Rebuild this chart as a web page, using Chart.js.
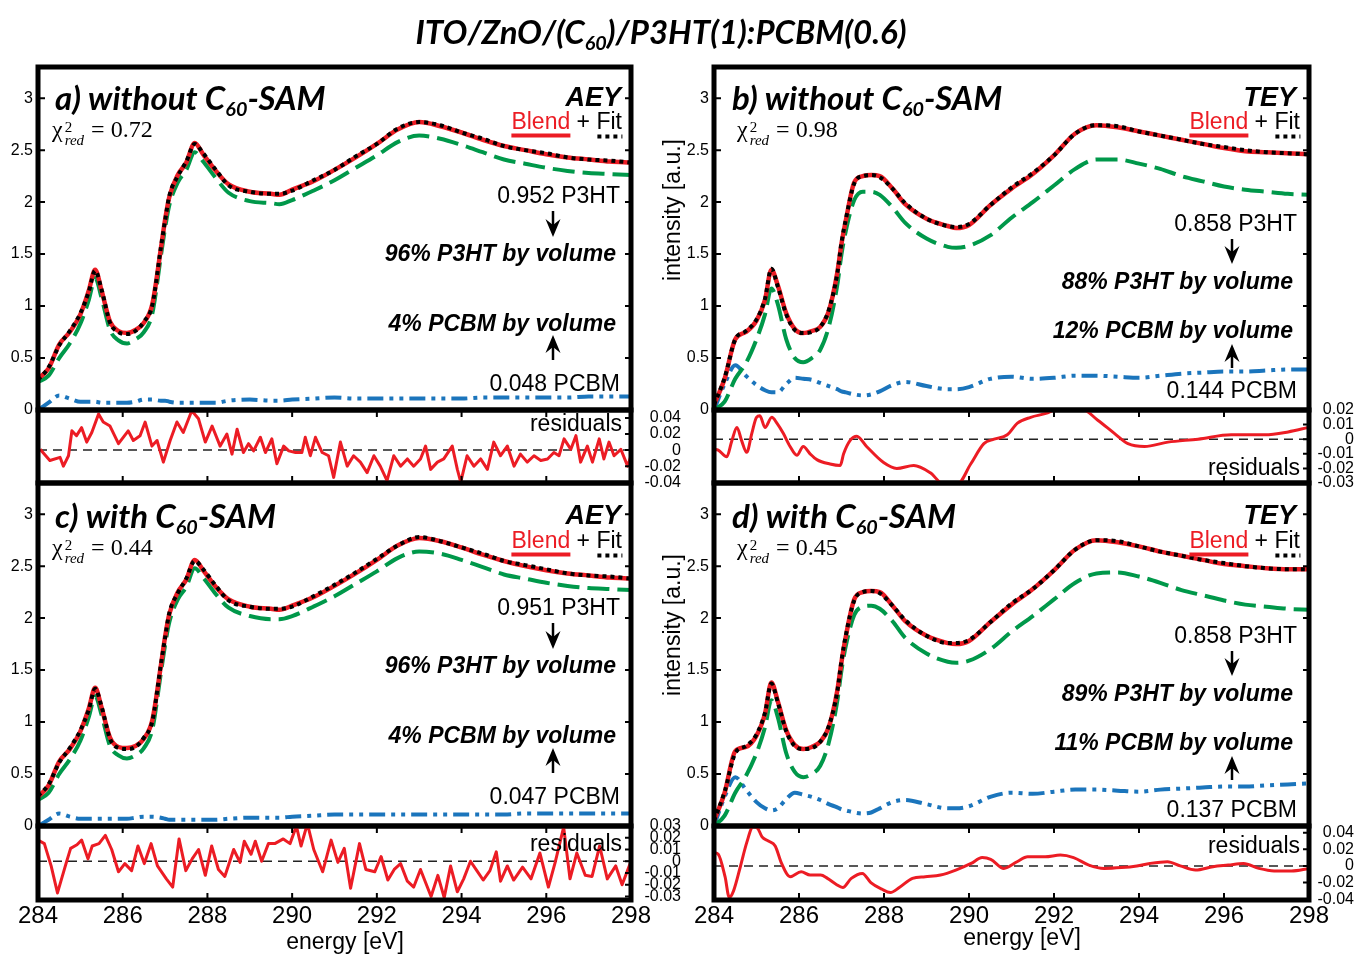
<!DOCTYPE html>
<html>
<head>
<meta charset="utf-8">
<title>ITO/ZnO/(C60)/P3HT(1):PCBM(0.6)</title>
<script src="https://cdn.jsdelivr.net/npm/chart.js@4.4.0/dist/chart.umd.min.js"></script>
<style>
  body { margin: 0; width: 1354px; height: 954px; position: relative; overflow: hidden; background: #fff; font-family: "Liberation Sans", Arial, sans-serif; color: #000; }
  canvas { position: absolute; }
  .t { position: absolute; white-space: nowrap; line-height: 1; }
  .ttl { font: italic bold 33px Lato, sans-serif; }
  .pl { font: italic bold 33px Lato, sans-serif; }
  .md { font: italic bold 27px "Liberation Sans", sans-serif; }
  .rg { font-size: 23px; }
  .bi { font: italic bold 23px "Liberation Sans", sans-serif; }
  .chi { font: 24px "Liberation Serif", serif; }
  .ss { display: inline-block; vertical-align: -8px; font-size: 15px; line-height: 13px; margin: 0 7px 0 2px; }
  .ss span { display: block; }
  sub { font-size: 0.6em; vertical-align: -0.3em; line-height: 0; }
  .bl { color: #ec1c24; border-bottom: 4px solid #ec1c24; }
  .ft { padding-bottom: 5px; background-image: linear-gradient(90deg, #000 50%, transparent 50%); background-size: 8px 4px; background-repeat: repeat-x; background-position: 1px 100%; }
  svg { position: absolute; left: 0; top: 0; }
</style>
</head>
<body>
<script>
// energy grid of the spectra (eV)
const energy = [284, 284.25, 284.5, 284.75, 285, 285.2, 285.35, 285.5, 285.7, 285.9, 286.1, 286.3, 286.5, 286.7, 286.9, 287.0, 287.1, 287.3, 287.5, 287.7, 287.9, 288.2, 288.5, 289, 289.5, 289.7, 290, 290.5, 291, 291.5, 292, 292.5, 293, 293.5, 294, 294.5, 295, 295.5, 296, 296.5, 297, 297.5, 298];
const xTicks = [284, 286, 288, 290, 292, 294, 296, 298];
const mainTicks = [0, 0.5, 1, 1.5, 2, 2.5, 3];

// a) without C60-SAM, AEY
const blendA = [0.30, 0.40, 0.63, 0.75, 0.92, 1.15, 1.35, 1.15, 0.85, 0.76, 0.74, 0.77, 0.84, 1.02, 1.55, 1.83, 2.05, 2.26, 2.38, 2.57, 2.46, 2.30, 2.17, 2.10, 2.08, 2.07, 2.12, 2.20, 2.31, 2.43, 2.56, 2.70, 2.77, 2.73, 2.67, 2.60, 2.54, 2.50, 2.46, 2.43, 2.41, 2.39, 2.38];
const fitA = [0.29, 0.41, 0.62, 0.76, 0.93, 1.14, 1.34, 1.16, 0.84, 0.75, 0.73, 0.76, 0.85, 1.01, 1.56, 1.82, 2.06, 2.25, 2.39, 2.56, 2.47, 2.31, 2.16, 2.10, 2.08, 2.08, 2.11, 2.21, 2.31, 2.44, 2.56, 2.71, 2.77, 2.74, 2.67, 2.61, 2.54, 2.50, 2.47, 2.43, 2.41, 2.40, 2.38];
const p3htA = [0.27, 0.33, 0.50, 0.64, 0.83, 1.06, 1.27, 1.08, 0.77, 0.67, 0.64, 0.68, 0.75, 0.93, 1.48, 1.75, 1.97, 2.19, 2.31, 2.48, 2.39, 2.23, 2.09, 2.01, 1.99, 1.98, 2.02, 2.11, 2.21, 2.33, 2.45, 2.58, 2.64, 2.61, 2.55, 2.48, 2.41, 2.37, 2.33, 2.30, 2.28, 2.27, 2.26];
const pcbmA = [0.00, 0.07, 0.14, 0.11, 0.08, 0.08, 0.08, 0.07, 0.07, 0.07, 0.07, 0.08, 0.10, 0.10, 0.09, 0.09, 0.08, 0.07, 0.07, 0.07, 0.07, 0.07, 0.09, 0.10, 0.09, 0.09, 0.10, 0.11, 0.12, 0.11, 0.11, 0.11, 0.11, 0.11, 0.11, 0.12, 0.12, 0.12, 0.12, 0.12, 0.13, 0.13, 0.13];

// b) without C60-SAM, TEY
const blendB = [0.05, 0.30, 0.68, 0.75, 0.86, 1.06, 1.35, 1.20, 0.93, 0.78, 0.74, 0.76, 0.80, 0.95, 1.32, 1.60, 1.82, 2.19, 2.25, 2.26, 2.25, 2.13, 1.98, 1.84, 1.77, 1.75, 1.78, 1.97, 2.13, 2.27, 2.45, 2.66, 2.74, 2.72, 2.68, 2.64, 2.60, 2.56, 2.52, 2.49, 2.48, 2.47, 2.46];
const fitB = [0.05, 0.31, 0.68, 0.76, 0.87, 1.07, 1.36, 1.19, 0.92, 0.77, 0.74, 0.75, 0.80, 0.96, 1.31, 1.61, 1.83, 2.18, 2.25, 2.26, 2.24, 2.13, 1.99, 1.84, 1.77, 1.76, 1.79, 1.97, 2.14, 2.28, 2.45, 2.66, 2.74, 2.73, 2.68, 2.64, 2.60, 2.56, 2.53, 2.50, 2.48, 2.47, 2.46];
const p3htB = [0.00, 0.08, 0.30, 0.45, 0.68, 0.92, 1.17, 1.02, 0.68, 0.50, 0.46, 0.50, 0.58, 0.80, 1.20, 1.50, 1.72, 2.02, 2.10, 2.10, 2.07, 1.95, 1.80, 1.65, 1.57, 1.56, 1.58, 1.68, 1.85, 2.00, 2.16, 2.32, 2.41, 2.41, 2.37, 2.32, 2.25, 2.20, 2.15, 2.12, 2.10, 2.08, 2.07];
const pcbmB = [0.00, 0.25, 0.43, 0.33, 0.24, 0.19, 0.17, 0.17, 0.25, 0.31, 0.30, 0.29, 0.26, 0.23, 0.20, 0.18, 0.17, 0.15, 0.14, 0.15, 0.18, 0.24, 0.27, 0.23, 0.20, 0.20, 0.22, 0.30, 0.32, 0.30, 0.31, 0.33, 0.33, 0.32, 0.31, 0.33, 0.35, 0.36, 0.37, 0.37, 0.38, 0.39, 0.39];

// c) with C60-SAM, AEY
const blendC = [0.28, 0.39, 0.62, 0.74, 0.91, 1.13, 1.33, 1.14, 0.85, 0.76, 0.75, 0.77, 0.84, 1.02, 1.54, 1.82, 2.04, 2.25, 2.37, 2.56, 2.46, 2.30, 2.18, 2.11, 2.09, 2.08, 2.12, 2.20, 2.31, 2.43, 2.56, 2.70, 2.77, 2.74, 2.68, 2.61, 2.55, 2.50, 2.46, 2.43, 2.41, 2.39, 2.38];
const fitC = [0.29, 0.40, 0.61, 0.75, 0.92, 1.12, 1.32, 1.15, 0.84, 0.75, 0.74, 0.76, 0.85, 1.01, 1.55, 1.81, 2.05, 2.24, 2.38, 2.55, 2.47, 2.31, 2.17, 2.11, 2.09, 2.09, 2.11, 2.21, 2.32, 2.44, 2.57, 2.70, 2.78, 2.74, 2.68, 2.62, 2.55, 2.51, 2.47, 2.43, 2.41, 2.40, 2.38];
const p3htC = [0.25, 0.32, 0.50, 0.64, 0.82, 1.05, 1.25, 1.07, 0.77, 0.68, 0.65, 0.68, 0.75, 0.93, 1.47, 1.74, 1.96, 2.18, 2.30, 2.48, 2.39, 2.23, 2.10, 2.02, 1.99, 1.99, 2.02, 2.11, 2.21, 2.33, 2.45, 2.58, 2.64, 2.62, 2.56, 2.49, 2.42, 2.38, 2.34, 2.31, 2.29, 2.28, 2.27];
const pcbmC = [0.00, 0.06, 0.12, 0.09, 0.07, 0.07, 0.07, 0.07, 0.07, 0.07, 0.07, 0.08, 0.09, 0.09, 0.08, 0.07, 0.06, 0.06, 0.06, 0.06, 0.06, 0.06, 0.07, 0.08, 0.08, 0.08, 0.09, 0.10, 0.11, 0.11, 0.11, 0.11, 0.11, 0.11, 0.11, 0.11, 0.11, 0.12, 0.12, 0.12, 0.12, 0.12, 0.12];

// d) with C60-SAM, TEY
const blendD = [0.05, 0.32, 0.72, 0.76, 0.87, 1.08, 1.38, 1.20, 0.92, 0.78, 0.74, 0.76, 0.81, 0.95, 1.30, 1.58, 1.82, 2.18, 2.25, 2.26, 2.25, 2.12, 1.97, 1.83, 1.76, 1.75, 1.78, 1.96, 2.13, 2.28, 2.46, 2.66, 2.75, 2.73, 2.69, 2.64, 2.60, 2.56, 2.52, 2.50, 2.48, 2.47, 2.47];
const fitD = [0.05, 0.33, 0.70, 0.77, 0.88, 1.09, 1.37, 1.19, 0.91, 0.77, 0.74, 0.75, 0.81, 0.96, 1.29, 1.59, 1.83, 2.17, 2.25, 2.26, 2.24, 2.12, 1.98, 1.83, 1.76, 1.76, 1.79, 1.96, 2.14, 2.28, 2.46, 2.66, 2.75, 2.74, 2.69, 2.64, 2.60, 2.56, 2.53, 2.50, 2.48, 2.47, 2.47];
const p3htD = [0.00, 0.10, 0.32, 0.48, 0.70, 0.95, 1.21, 1.05, 0.70, 0.52, 0.47, 0.50, 0.58, 0.80, 1.20, 1.50, 1.73, 2.03, 2.11, 2.12, 2.09, 1.97, 1.81, 1.66, 1.58, 1.57, 1.59, 1.70, 1.87, 2.02, 2.18, 2.34, 2.43, 2.44, 2.40, 2.34, 2.27, 2.22, 2.17, 2.13, 2.11, 2.09, 2.08];
const pcbmD = [0.00, 0.28, 0.47, 0.35, 0.23, 0.17, 0.15, 0.17, 0.26, 0.32, 0.30, 0.28, 0.25, 0.21, 0.18, 0.16, 0.15, 0.13, 0.12, 0.13, 0.17, 0.23, 0.25, 0.21, 0.17, 0.17, 0.19, 0.28, 0.32, 0.31, 0.33, 0.35, 0.35, 0.34, 0.33, 0.35, 0.36, 0.37, 0.38, 0.38, 0.39, 0.40, 0.41];

// residuals
const resEnergyA = [284.05, 284.28, 284.52, 284.6, 284.72, 284.8, 284.91, 285.03, 285.15, 285.27, 285.43, 285.54, 285.7, 285.9, 286.13, 286.25, 286.41, 286.53, 286.69, 286.81, 286.96, 287.12, 287.28, 287.43, 287.63, 287.79, 287.95, 288.11, 288.3, 288.46, 288.58, 288.7, 288.85, 288.97, 289.09, 289.25, 289.37, 289.52, 289.64, 289.8, 289.92, 290.08, 290.23, 290.31, 290.43, 290.55, 290.71, 290.86, 290.98, 291.14, 291.3, 291.45, 291.61, 291.77, 291.93, 292.08, 292.24, 292.4, 292.56, 292.72, 292.87, 293.03, 293.15, 293.27, 293.43, 293.58, 293.78, 293.9, 293.98, 294.13, 294.29, 294.45, 294.61, 294.76, 294.92, 295.08, 295.24, 295.39, 295.55, 295.71, 295.87, 296.03, 296.18, 296.3, 296.42, 296.58, 296.7, 296.81, 296.97, 297.09, 297.25, 297.36, 297.48, 297.6, 297.76, 297.92, 298.0];
const resA = [0.001, -0.013, -0.009, -0.02, -0.007, 0.024, 0.018, 0.028, 0.010, 0.022, 0.045, 0.035, 0.030, 0.008, 0.024, 0.012, 0.018, 0.035, 0.005, 0.012, -0.015, 0.012, 0.035, 0.022, 0.049, 0.039, 0.010, 0.030, 0.005, 0.020, -0.005, 0.026, -0.003, 0.008, -0.001, 0.016, -0.003, 0.014, -0.017, 0.005, -0.001, -0.003, -0.003, 0.016, -0.007, 0.016, -0.003, -0.007, -0.034, 0.010, -0.020, -0.007, -0.015, -0.028, -0.007, -0.020, -0.038, -0.007, -0.020, -0.011, -0.020, -0.011, 0.005, -0.024, -0.015, -0.011, 0.005, -0.024, -0.040, -0.007, -0.020, -0.011, -0.024, 0.010, -0.007, 0.005, -0.020, -0.005, -0.015, -0.007, -0.013, -0.011, -0.003, -0.007, 0.014, 0.001, 0.018, -0.015, 0.005, -0.015, 0.014, -0.011, 0.010, -0.007, 0.001, -0.020, -0.007];
const resTicksA = [-0.04, -0.02, 0, 0.02, 0.04];

const resEnergyB = [284.0, 284.1, 284.3, 284.42, 284.54, 284.65, 284.77, 284.89, 285.0, 285.08, 285.2, 285.36, 285.48, 285.63, 285.79, 285.95, 286.1, 286.26, 286.42, 286.73, 286.97, 287.05, 287.2, 287.36, 287.59, 287.99, 288.3, 288.7, 289.09, 289.41, 289.72, 290.04, 290.35, 290.59, 290.9, 291.14, 291.45, 291.85, 292.08, 292.63, 293.03, 293.42, 293.74, 294.13, 294.68, 295.39, 296.17, 296.96, 297.51, 297.98];
const resB = [-0.007, -0.0075, -0.012, -0.001, 0.008, -0.001, -0.009, 0.004, 0.015, 0.016, 0.008, 0.015, 0.011, 0.004, -0.005, -0.011, -0.005, -0.010, -0.014, -0.017, -0.018, -0.010, -0.001, 0.002, -0.005, -0.016, -0.020, -0.018, -0.023, -0.031, -0.031, -0.017, -0.003, 0.000, 0.003, 0.011, 0.015, 0.018, 0.021, 0.021, 0.013, 0.004, -0.003, -0.005, -0.002, 0.000, 0.003, 0.003, 0.005, 0.008];
const resTicksB = [-0.03, -0.02, -0.01, 0, 0.01, 0.02];

const resEnergyC = [284.0, 284.15, 284.31, 284.46, 284.67, 284.77, 284.92, 285.03, 285.18, 285.28, 285.44, 285.59, 285.74, 285.9, 286.05, 286.21, 286.36, 286.51, 286.67, 286.82, 287.03, 287.18, 287.33, 287.49, 287.64, 287.79, 287.95, 288.1, 288.26, 288.41, 288.62, 288.77, 288.87, 289.03, 289.13, 289.28, 289.44, 289.59, 289.79, 289.95, 290.1, 290.21, 290.36, 290.51, 290.72, 290.92, 291.08, 291.23, 291.38, 291.59, 291.74, 291.95, 292.1, 292.26, 292.41, 292.56, 292.72, 292.87, 293.03, 293.28, 293.44, 293.59, 293.74, 293.9, 294.05, 294.21, 294.36, 294.51, 294.67, 294.82, 294.92, 295.08, 295.23, 295.44, 295.64, 295.85, 296.05, 296.21, 296.41, 296.56, 296.72, 296.92, 297.08, 297.26, 297.44, 297.64, 297.79, 298.0];
const resC = [0.018, 0.015, -0.004, -0.027, -0.001, 0.011, 0.014, 0.018, 0.002, 0.013, 0.015, 0.022, 0.010, -0.009, -0.002, -0.008, 0.013, -0.002, 0.015, -0.004, -0.015, -0.022, 0.019, -0.008, 0.002, 0.010, -0.012, 0.013, -0.007, -0.013, 0.010, -0.001, 0.017, 0.006, 0.017, 0.000, 0.015, 0.015, 0.019, 0.015, 0.030, 0.013, 0.032, 0.010, -0.009, 0.018, -0.001, 0.011, -0.023, 0.015, -0.007, -0.009, 0.004, -0.016, -0.007, -0.002, -0.017, -0.022, -0.007, -0.030, -0.012, -0.031, -0.004, -0.026, -0.015, 0.000, -0.008, -0.016, -0.008, 0.008, -0.017, -0.004, -0.016, -0.005, -0.015, 0.007, -0.022, -0.001, 0.029, -0.015, 0.007, -0.012, -0.013, 0.013, -0.015, -0.004, -0.020, 0.000];
const resTicksC = [-0.03, -0.02, -0.01, 0, 0.01, 0.02, 0.03];

const resEnergyD = [284.0, 284.1, 284.26, 284.36, 284.46, 284.62, 284.77, 284.92, 285.03, 285.13, 285.28, 285.44, 285.59, 285.79, 286.05, 286.26, 286.51, 286.67, 286.87, 287.03, 287.23, 287.49, 287.69, 287.95, 288.15, 288.36, 288.67, 288.97, 289.33, 289.69, 290.05, 290.31, 290.51, 290.82, 291.13, 291.38, 291.79, 292.15, 292.46, 292.82, 293.18, 293.59, 293.95, 294.26, 294.67, 294.97, 295.33, 295.74, 296.1, 296.46, 296.82, 297.18, 297.59, 298.0];
const resD = [0.016, 0.014, -0.013, -0.038, -0.030, -0.001, 0.028, 0.047, 0.045, 0.035, 0.030, 0.024, 0.003, -0.013, -0.007, -0.011, -0.011, -0.015, -0.022, -0.026, -0.015, -0.009, -0.020, -0.028, -0.032, -0.026, -0.015, -0.013, -0.011, -0.005, 0.003, 0.010, 0.008, -0.003, 0.005, 0.011, 0.011, 0.013, 0.010, 0.001, -0.003, -0.002, 0.000, 0.003, 0.005, 0.000, -0.005, -0.001, 0.001, 0.003, -0.003, -0.006, -0.006, -0.003];
const resTicksD = [-0.04, -0.02, 0, 0.02, 0.04];

const RED = '#ec1c24', GREEN = '#00984a', BLUE = '#1b75bc';

Chart.defaults.font.family = '"Liberation Sans", Arial, sans-serif';
Chart.defaults.color = '#000';

// thick frame, inward ticks and the dashed zero line of the residuals
Chart.register({
  id: 'frame',
  beforeDatasetsDraw(chart, args, o) {
    if (!o.zero) return;
    const a = chart.chartArea, ctx = chart.ctx;
    const y = chart.scales.y.getPixelForValue(0);
    ctx.save();
    ctx.strokeStyle = '#222'; ctx.lineWidth = 1.5; ctx.setLineDash([9, 6]);
    ctx.beginPath(); ctx.moveTo(a.left, y); ctx.lineTo(a.right, y); ctx.stroke();
    ctx.restore();
  },
  afterDatasetsDraw(chart, args, o) {
    const a = chart.chartArea, ctx = chart.ctx, sx = chart.scales.x, sy = chart.scales.y;
    ctx.save();
    ctx.strokeStyle = '#000'; ctx.lineWidth = 2;
    ctx.beginPath();
    if (o.xTicks) xTicks.forEach(v => {
      const px = sx.getPixelForValue(v);
      ctx.moveTo(px, a.top); ctx.lineTo(px, a.top + 7);
      ctx.moveTo(px, a.bottom); ctx.lineTo(px, a.bottom - 7);
    });
    (o.yTicks || []).forEach(v => {
      const py = sy.getPixelForValue(v);
      if (o.left) { ctx.moveTo(a.left, py); ctx.lineTo(a.left + 7, py); }
      if (o.right) { ctx.moveTo(a.right, py); ctx.lineTo(a.right - 6, py); }
    });
    ctx.stroke();
    ctx.lineWidth = 5;
    ctx.strokeRect(a.left, a.top, a.width, a.height);
    ctx.restore();
  }
});

function pts(xs, ys) {
  return xs.map((x, i) => ({x: x, y: ys[i]}));
}

function mainSets(blend, fit, p3ht, pcbm) {
  return [
    {data: pts(energy, fit), borderColor: '#000', borderWidth: 4, borderDash: [4, 4]},
    {data: pts(energy, blend), borderColor: RED, borderWidth: 4.5},
    {data: pts(energy, p3ht), borderColor: GREEN, borderWidth: 4, borderDash: [22, 8]},
    {data: pts(energy, pcbm), borderColor: BLUE, borderWidth: 4, borderDash: [16, 6, 4, 6, 4, 6]}
  ];
}

function resSets(xs, ys, smooth) {
  return [{data: pts(xs, ys), borderColor: RED, borderWidth: 3, tension: 0,
           cubicInterpolationMode: smooth ? 'monotone' : 'default'}];
}

// box = [left, top, right, bottom] of the plot frame, m = margins [l, t, r, b]
function makeChart(box, m, sets, yMin, yMax, yTicks, res, showX, labelPad) {
  const c = document.createElement('canvas');
  c.width = box[2] - box[0] + m[0] + m[2];
  c.height = box[3] - box[1] + m[1] + m[3];
  c.style.left = (box[0] - m[0]) + 'px';
  c.style.top = (box[1] - m[1]) + 'px';
  document.body.appendChild(c);
  const xOpts = {
    type: 'linear', min: 284, max: 298, display: showX,
    grid: {display: false, drawTicks: false}, border: {display: false},
    afterBuildTicks: s => { s.ticks = xTicks.map(v => ({value: v})); },
    ticks: {font: {size: 24}, padding: 2, maxRotation: 0, autoSkip: false}
  };
  if (showX) xOpts.afterFit = s => { s.height = m[3]; };
  new Chart(c, {
    type: 'line',
    data: {datasets: sets},
    options: {
      responsive: false, animation: false, events: [],
      layout: {padding: {left: res ? m[0] : 0, right: res ? 0 : m[2], top: m[1], bottom: showX ? 0 : m[3]}},
      elements: {point: {radius: 0}, line: {cubicInterpolationMode: 'monotone', borderJoinStyle: 'round'}},
      plugins: {
        legend: {display: false}, tooltip: {enabled: false},
        frame: {zero: res, xTicks: res, left: !res, right: true, yTicks: yTicks}
      },
      scales: {
        x: xOpts,
        y: {
          position: res ? 'right' : 'left', min: yMin, max: yMax,
          grid: {display: false, drawTicks: false}, border: {display: false},
          afterBuildTicks: s => { s.ticks = yTicks.map(v => ({value: v})); },
          afterFit: s => { s.width = res ? m[2] : m[0]; },
          ticks: {font: {size: 16}, padding: labelPad, autoSkip: false,
                  crossAlign: res ? 'far' : 'near', callback: v => String(v)}
        }
      }
    }
  });
}

makeChart([38, 67, 631, 410], [38, 20, 12, 20], mainSets(blendA, fitA, p3htA, pcbmA), 0, 3.3, mainTicks, false, false, 5);
makeChart([714, 67, 1309, 410], [40, 20, 12, 20], mainSets(blendB, fitB, p3htB, pcbmB), 0, 3.3, mainTicks, false, false, 5);
makeChart([38, 483, 631, 826], [38, 20, 12, 20], mainSets(blendC, fitC, p3htC, pcbmC), 0, 3.3, mainTicks, false, false, 5);
makeChart([714, 483, 1309, 826], [40, 20, 12, 20], mainSets(blendD, fitD, p3htD, pcbmD), 0, 3.3, mainTicks, false, false, 5);

makeChart([38, 410, 631, 483], [38, 24, 50, 24], resSets(resEnergyA, resA, false), -0.041, 0.05, resTicksA, true, false, 9);
makeChart([714, 410, 1309, 483], [30, 24, 45, 24], resSets(resEnergyB, resB, true), -0.03, 0.02, resTicksB, true, false, 7);
makeChart([38, 826, 631, 900], [38, 24, 50, 34], resSets(resEnergyC, resC, false), -0.033, 0.03, resTicksC, true, true, 9);
makeChart([714, 826, 1309, 900], [30, 24, 45, 34], resSets(resEnergyD, resD, true), -0.041, 0.048, resTicksD, true, true, 7);

// text
function txt(html, x, y, cls, anchor) {
  const d = document.createElement('div');
  d.className = 't ' + cls;
  d.innerHTML = html;
  d.style.left = x + 'px';
  d.style.top = y + 'px';
  const tx = anchor === 'r' ? '-100%' : anchor === 'c' ? '-50%' : '0';
  d.style.transform = 'translate(' + tx + ', -50%)';
  document.body.appendChild(d);
  return d;
}
function chi(v) {
  return '\u03c7<span class="ss"><span>2</span><span><i>red</i></span></span>= ' + v;
}
const legendHtml = '<span class="bl">Blend</span> + <span class="ft">Fit</span>';

txt('ITO/ZnO/(C<sub>60</sub>)/P3HT(1):PCBM(0.6)', 661, 31, 'ttl', 'c');

// panel a
txt('a) without C<sub>60</sub>-SAM', 55, 97, 'pl', 'l');
txt(chi('0.72'), 52, 131, 'chi', 'l');
txt('AEY', 621, 97, 'md', 'r');
txt(legendHtml, 622, 121, 'rg', 'r');
txt('0.952 P3HT', 620, 195, 'rg', 'r');
txt('96% P3HT by volume', 616, 253, 'bi', 'r');
txt('4% PCBM by volume', 616, 323, 'bi', 'r');
txt('0.048 PCBM', 620, 383, 'rg', 'r');
txt('residuals', 622, 423, 'rg', 'r');

// panel b
txt('b) without C<sub>60</sub>-SAM', 732, 97, 'pl', 'l');
txt(chi('0.98'), 737, 131, 'chi', 'l');
txt('TEY', 1296, 97, 'md', 'r');
txt(legendHtml, 1300, 121, 'rg', 'r');
txt('0.858 P3HT', 1297, 223, 'rg', 'r');
txt('88% P3HT by volume', 1293, 281, 'bi', 'r');
txt('12% PCBM by volume', 1293, 330, 'bi', 'r');
txt('0.144 PCBM', 1297, 390, 'rg', 'r');
txt('residuals', 1300, 467, 'rg', 'r');

// panel c
txt('c) with C<sub>60</sub>-SAM', 55, 515, 'pl', 'l');
txt(chi('0.44'), 52, 549, 'chi', 'l');
txt('AEY', 621, 515, 'md', 'r');
txt(legendHtml, 622, 540, 'rg', 'r');
txt('0.951 P3HT', 620, 607, 'rg', 'r');
txt('96% P3HT by volume', 616, 665, 'bi', 'r');
txt('4% PCBM by volume', 616, 735, 'bi', 'r');
txt('0.047 PCBM', 620, 796, 'rg', 'r');
txt('residuals', 622, 843, 'rg', 'r');

// panel d
txt('d) with C<sub>60</sub>-SAM', 732, 515, 'pl', 'l');
txt(chi('0.45'), 737, 549, 'chi', 'l');
txt('TEY', 1296, 515, 'md', 'r');
txt(legendHtml, 1300, 540, 'rg', 'r');
txt('0.858 P3HT', 1297, 635, 'rg', 'r');
txt('89% P3HT by volume', 1293, 693, 'bi', 'r');
txt('11% PCBM by volume', 1293, 742, 'bi', 'r');
txt('0.137 PCBM', 1297, 809, 'rg', 'r');
txt('residuals', 1300, 845, 'rg', 'r');

// axis titles
txt('energy [eV]', 345, 941, 'rg', 'c');
txt('energy [eV]', 1022, 937, 'rg', 'c');
txt('intensity [a.u.]', 672, 210, 'rg', 'c').style.transform = 'translate(-50%, -50%) rotate(-90deg)';
txt('intensity [a.u.]', 672, 625, 'rg', 'c').style.transform = 'translate(-50%, -50%) rotate(-90deg)';

// arrows between fraction and volume labels
const svg = document.createElementNS('http://www.w3.org/2000/svg', 'svg');
svg.setAttribute('width', 1354);
svg.setAttribute('height', 954);
document.body.appendChild(svg);
function arrow(x, y1, y2) {
  const d = y2 > y1 ? 1 : -1;
  svg.innerHTML += '<line x1="' + x + '" y1="' + y1 + '" x2="' + x + '" y2="' + (y2 - d * 10) +
    '" stroke="#000" stroke-width="2.5"/><path d="M' + x + ' ' + y2 + ' L' + (x - 7.5) + ' ' + (y2 - d * 18) +
    ' L' + x + ' ' + (y2 - d * 12) + ' L' + (x + 7.5) + ' ' + (y2 - d * 18) + 'Z" fill="#000"/>';
}
arrow(553, 211, 237); arrow(553, 360, 335);
arrow(1232, 239, 264); arrow(1232, 368, 344);
arrow(553, 623, 649); arrow(553, 773, 748);
arrow(1232, 651, 676); arrow(1232, 780, 756);
</script>
</body>
</html>
